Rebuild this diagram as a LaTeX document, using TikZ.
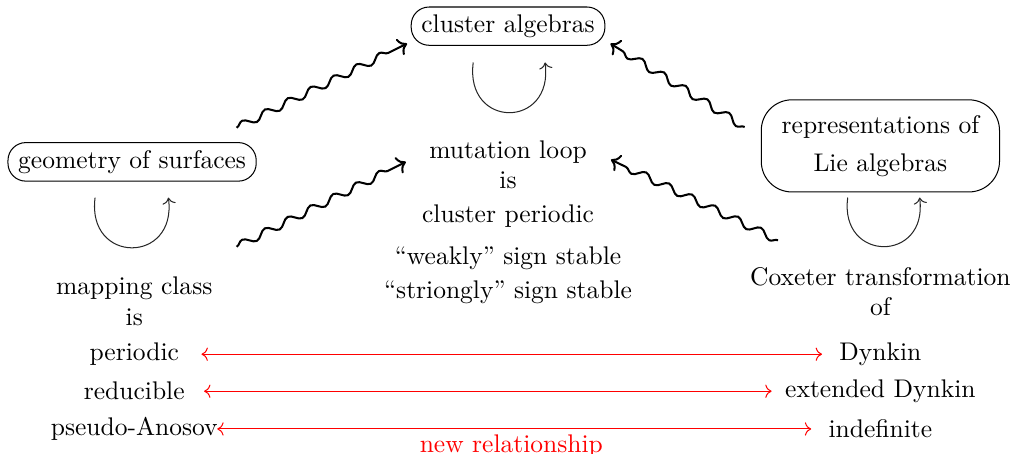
\documentclass[tikz,border=0pt]{standalone}
\usetikzlibrary{arrows.meta, decorations.pathmorphing, positioning}

\begin{document}
\begin{tikzpicture}[
    field/.style={
      draw,
      rounded corners = 7pt,
      align = center,
      inner xsep = 4pt,
      inner ysep = 3pt,
    },
    squig/.style={
      ->,
      thick,
      decorate,
      decoration={snake, amplitude = 1.5pt,
        segment length = 10pt, post length = 4pt},
    },
    selfmap/.style={->, black!85},
    relation/.style={<->, red},
  ]
  \useasboundingbox (0,0) rectangle (14.04,-6.25);

  \node[field] (ca) at (7.00,-0.36) {cluster algebras};
  \node[field] (geo) at (1.82,-2.23) {geometry of surfaces};
  \node[field, rounded corners = 12pt, inner xsep = 8pt,
    inner ysep = 6pt] (rep) at (12.13,-2.01)
    {representations of\\[3pt] Lie algebras};

  \node[align = center] (mut) at (7.00,-2.27) {mutation loop\\is};
  \node (cper) at (7.00,-2.98) {cluster periodic};
  \node[align = center] (stab) at (7.00,-3.79)
    {``weakly'' sign stable\\[1.3pt] ``striongly'' sign stable};

  \node[align = center] (mcg) at (1.85,-4.15) {mapping class\\is};
  \node (per) at (1.85,-4.88) {periodic};
  \node (red) at (1.85,-5.39) {reducible};
  \node (pa) at (1.85,-5.91) {pseudo-Anosov};

  \node[align = center] (cox) at (12.13,-4.02) {Coxeter transformation\\of};
  \node (dyn) at (12.13,-4.88) {Dynkin};
  \node (edyn) at (12.13,-5.39) {extended Dynkin};
  \node (indef) at (12.13,-5.91) {indefinite};

  % tails of the squiggly arrows
  \coordinate (geo-up) at (3.26,-1.76);
  \coordinate (geo-down) at (3.26,-3.40);
  \coordinate (rep-up) at (10.26,-1.75);
  \coordinate (rep-down) at (10.72,-3.31);

  \draw[squig] (geo-up) -- ([shift={(-0.05,0.03)}]ca.south west);
  \draw[squig] (geo-down) -- ([shift={(-0.2,0.04)}]mut.west);
  \draw[squig] (rep-up) -- ([shift={(0.07,0.03)}]ca.south east);
  \draw[squig] (rep-down) -- ([shift={(0.21,0.07)}]mut.east);

  % self maps
  \draw[selfmap] ([shift={(-0.48,-0.23)}]ca.south)
    .. controls +(-0.12,-0.92) and +(0.12,-0.92) ..
    ([shift={(0.51,-0.23)}]ca.south);
  \draw[selfmap] ([shift={(-0.51,-0.22)}]geo.south)
    .. controls +(-0.12,-0.92) and +(0.12,-0.92) ..
    ([shift={(0.50,-0.22)}]geo.south);
  \draw[selfmap] ([shift={(-0.45,-0.07)}]rep.south)
    .. controls +(-0.12,-0.9) and +(0.12,-0.9) ..
    ([shift={(0.54,-0.07)}]rep.south);

  \draw[relation, shorten <= 5.3pt, shorten >= 3.3pt] (per) -- (dyn);
  \draw[relation, shorten <= 4.1pt, shorten >= 1.8pt] (red) -- (edyn);
  \draw[relation, shorten <= -3.7pt, shorten >= 3.3pt] (pa) -- (indef)
    node[pos = 0.48, below, inner sep = 2pt, red] {new relationship};
\end{tikzpicture}
\end{document}
